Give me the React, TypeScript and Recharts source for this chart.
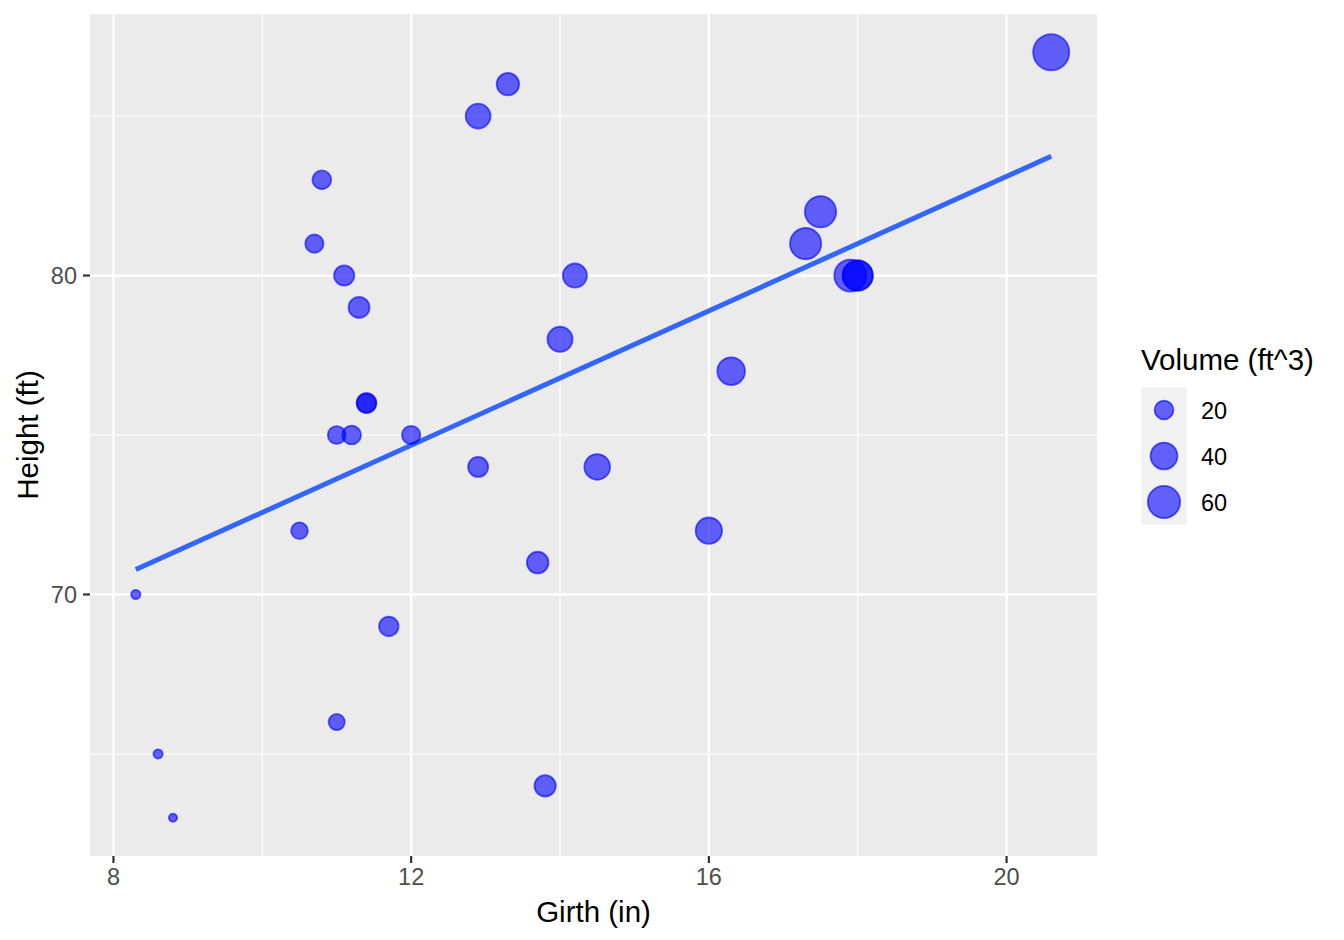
import {
  ComposedChart,
  Scatter,
  XAxis,
  YAxis,
  ReferenceLine,
  Label,
} from 'recharts';

// trees data: girth (in), height (ft), volume (ft^3)
const girth = [
  8.3, 8.6, 8.8, 10.5, 10.7, 10.8, 11.0, 11.0, 11.1, 11.2, 11.3, 11.4, 11.4, 11.7, 12.0, 12.9,
  12.9, 13.3, 13.7, 13.8, 14.0, 14.2, 14.5, 16.0, 16.3, 17.3, 17.5, 17.9, 18.0, 18.0, 20.6,
];
const height = [
  70, 65, 63, 72, 81, 83, 66, 75, 80, 75, 79, 76, 76, 69, 75, 74, 85, 86, 71, 64, 78, 80, 74, 72,
  77, 81, 82, 80, 80, 80, 87,
];
const volume = [
  10.3, 10.3, 10.2, 16.4, 18.8, 19.7, 15.6, 18.2, 22.6, 19.9, 24.2, 21.0, 21.4, 21.3, 19.1, 22.2,
  33.8, 27.4, 25.7, 24.9, 34.5, 31.7, 36.3, 38.3, 42.6, 55.4, 55.7, 58.3, 51.5, 51.0, 77.0,
];

// fitted line end points
const fitLine = [
  { x: 8.3, y: 70.78 },
  { x: 20.6, y: 83.74 },
];

const xTicks = [8, 12, 16, 20];
const xMinor = [10, 14, 18];
const yTicks = [70, 80];
const yMinor = [65, 75, 85];
const legendBreaks = [20, 40, 60];

const treeData = girth.map((g, i) => ({ girth: g, height: height[i], volume: volume[i] }));

const vMin = Math.min(...volume);
const vMax = Math.max(...volume);
const FONT = '"Liberation Sans", Arial, Helvetica, sans-serif';
const TICK_FS = 23.5;
const TITLE_FS = 29.5;

// ggplot-like area scale: size 1..6, mapped to an outer diameter in px
function diameterOf(v: number) {
  const t = Math.max(0, Math.min(1, (v - vMin) / (vMax - vMin)));
  const s = 1 + 5 * Math.sqrt(t);
  return 5.6 * s + 4.4;
}

function Bubble(props: any) {
  const { cx, cy, payload } = props;
  if (cx == null || cy == null) return <g />;
  const r = diameterOf(payload.volume) / 2 - 0.9;
  return (
    <circle
      cx={cx}
      cy={cy}
      r={r}
      fill="#0000ff"
      fillOpacity={0.6}
      stroke="#0000ff"
      strokeOpacity={0.6}
      strokeWidth={1.8}
    />
  );
}

function SizeLegend() {
  return (
    <svg
      width={200}
      height={200}
      style={{ position: 'absolute', left: 1141, top: 335, fontFamily: FONT }}
    >
      <text x={0} y={24} fontSize={TITLE_FS} fill="#000" dominantBaseline="central">
        Volume (ft^3)
      </text>
      <rect x={0} y={52} width={46} height={138} fill="#f2f2f2" />
      {legendBreaks.map((b, i) => {
        const cy = 75 + i * 46;
        return (
          <g key={b}>
            <circle
              cx={23}
              cy={cy}
              r={diameterOf(b) / 2 - 0.9}
              fill="#0000ff"
              fillOpacity={0.6}
              stroke="#0000ff"
              strokeOpacity={0.6}
              strokeWidth={1.8}
            />
            <text x={60} y={cy + 1} fontSize={TICK_FS} fill="#000" dominantBaseline="central">
              {b}
            </text>
          </g>
        );
      })}
    </svg>
  );
}

export default function App() {
  return (
    <div style={{ position: 'absolute', left: 0, top: 0, width: 1344, height: 940, background: '#fff' }}>
      <ComposedChart
        width={1344}
        height={940}
        data={treeData}
        margin={{ top: 14, right: 247, bottom: 0, left: 0 }}
        style={{ fontFamily: FONT }}
      >
        <rect x={90} y={14} width={1007} height={842} fill="#ebebeb" />
        <XAxis
          type="number"
          dataKey="girth"
          domain={[7.685, 21.215]}
          ticks={xTicks}
          allowDataOverflow
          axisLine={false}
          tickLine={{ stroke: '#333333', strokeWidth: 2.2 }}
          tickSize={7}
          tickMargin={5}
          height={84}
          tick={{ fill: '#4d4d4d', fontSize: TICK_FS, fontFamily: FONT }}
        >
          <Label
            content={(p: any) => {
              const vb = p.viewBox;
              return (
                <text
                  x={vb.x + vb.width / 2}
                  y={vb.y + 55}
                  textAnchor="middle"
                  dominantBaseline="central"
                  fontSize={TITLE_FS}
                  fill="#000"
                  fontFamily={FONT}
                >
                  Girth (in)
                </text>
              );
            }}
          />
        </XAxis>
        <YAxis
          type="number"
          dataKey="height"
          domain={[61.8, 88.2]}
          ticks={yTicks}
          allowDataOverflow
          axisLine={false}
          tickLine={{ stroke: '#333333', strokeWidth: 2.2 }}
          tickSize={7}
          tickMargin={6}
          width={90}
          tick={{ fill: '#4d4d4d', fontSize: TICK_FS, fontFamily: FONT }}
        >
          <Label
            content={(p: any) => {
              const vb = p.viewBox;
              const cx = vb.x + 27;
              const cy = vb.y + vb.height / 2;
              return (
                <text
                  x={cx}
                  y={cy}
                  transform={`rotate(-90, ${cx}, ${cy})`}
                  textAnchor="middle"
                  dominantBaseline="central"
                  fontSize={TITLE_FS}
                  fill="#000"
                  fontFamily={FONT}
                >
                  Height (ft)
                </text>
              );
            }}
          />
        </YAxis>
        {xMinor.map((v) => (
          <ReferenceLine key={`xm${v}`} x={v} stroke="#ffffff" strokeWidth={1.1} />
        ))}
        {yMinor.map((v) => (
          <ReferenceLine key={`ym${v}`} y={v} stroke="#ffffff" strokeWidth={1.1} />
        ))}
        {xTicks.map((v) => (
          <ReferenceLine key={`xM${v}`} x={v} stroke="#ffffff" strokeWidth={2.2} />
        ))}
        {yTicks.map((v) => (
          <ReferenceLine key={`yM${v}`} y={v} stroke="#ffffff" strokeWidth={2.2} />
        ))}
        <Scatter dataKey="height" shape={Bubble} isAnimationActive={false} />
        <ReferenceLine
          segment={[fitLine[0], fitLine[1]]}
          stroke="#3366ff"
          strokeWidth={5}
        />
      </ComposedChart>
      <SizeLegend />
    </div>
  );
}
